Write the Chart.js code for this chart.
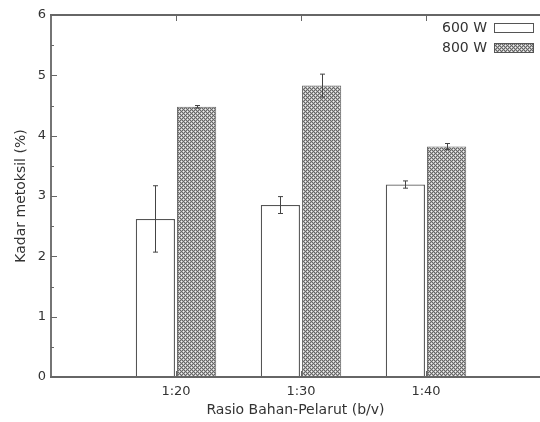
<!DOCTYPE html>
<html><head><meta charset="utf-8">
<script src="https://cdn.jsdelivr.net/npm/chart.js@4.4.0/dist/chart.umd.min.js"></script>
<style>
html,body{margin:0;padding:0;overflow:hidden;background:#fff;width:540px;height:422px}
canvas{display:block}
</style></head>
<body><canvas id="c" width="540" height="422"></canvas>
<script>
const categories = ['1:20', '1:30', '1:40'];
const seriesLabels = ['600 W', '800 W'];
const values600 = [2.62, 2.85, 3.19];
const errors600 = [0.55, 0.14, 0.06];
const values800 = [4.48, 4.83, 3.82];
const errors800 = [0.02, 0.19, 0.05];
const yTicks = [0, 1, 2, 3, 4, 5, 6];
const xTitle = 'Rasio Bahan-Pelarut (b/v)';
const yTitle = 'Kadar metoksil (%)';

const FONT = '"DejaVu Sans", Verdana, sans-serif';
const TXT = '#333333';
const LINE = '#666666';

function makePattern() {
  const t = document.createElement('canvas');
  t.width = 4; t.height = 4;
  const c = t.getContext('2d');
  const pts = [];
  for (let a = -2; a <= 2; a++) for (let b = -2; b <= 2; b++) pts.push([1.5 + 2*a + 2*b, 1.5 + 2*a - 2*b]);
  for (let x = 0; x < 4; x++) for (let y = 0; y < 4; y++) {
    const px = x + 0.5, py = y + 0.5;
    let d = 99;
    pts.forEach(p => { d = Math.min(d, Math.hypot(px - p[0], py - p[1])); });
    c.fillStyle = d < 0.5 ? '#f2f2f2' : (d < 1.2 ? '#b4b4b4' : '#666666');
    c.fillRect(x, y, 1, 1);
  }
  return document.getElementById('c').getContext('2d').createPattern(t, 'repeat');
}
const pattern = makePattern();

const toPoints = arr => arr.map((v, i) => ({x: i + 1, y: v}));
const errs = [errors600, errors800];
const vals = [values600, values800];

const framePlugin = {
  id: 'frame',
  afterDatasetsDraw(chart) {
    const {ctx, scales: {y}} = chart;
    ctx.save();
    ctx.strokeStyle = '#444';
    ctx.lineWidth = 1;
    vals.forEach((v, di) => {
      const meta = chart.getDatasetMeta(di);
      v.forEach((val, i) => {
        const bar = meta.data[i];
        const cx = Math.round(bar.x) + 0.5;
        const yt = y.getPixelForValue(val + errs[di][i]);
        const yb = y.getPixelForValue(val - errs[di][i]);
        ctx.beginPath();
        ctx.moveTo(cx, yt); ctx.lineTo(cx, yb);
        ctx.moveTo(cx - 2.5, yt); ctx.lineTo(cx + 2.5, yt);
        ctx.moveTo(cx - 2.5, yb); ctx.lineTo(cx + 2.5, yb);
        ctx.stroke();
      });
    });
    ctx.restore();
  },
  afterDraw(chart) {
    const {ctx, chartArea: a, scales: {x, y}} = chart;
    const W = chart.width;
    ctx.save();
    ctx.strokeStyle = LINE;
    ctx.lineWidth = 1.8;
    ctx.beginPath();
    ctx.moveTo(a.left, a.top); ctx.lineTo(a.left, a.bottom);
    ctx.moveTo(a.left - 1, a.top); ctx.lineTo(W, a.top);
    ctx.moveTo(a.left - 1, a.bottom); ctx.lineTo(W, a.bottom);
    ctx.stroke();
    ctx.lineWidth = 1;
    ctx.beginPath();
    for (let v = 0; v <= 6.001; v += 0.5) {
      const py = Math.round(y.getPixelForValue(v)) + 0.5;
      const len = Math.abs(v - Math.round(v)) < 0.01 ? 6 : 3;
      ctx.moveTo(a.left, py); ctx.lineTo(a.left + len, py);
    }
    categories.forEach((c, i) => {
      const px = Math.round(x.getPixelForValue(i + 1)) + 0.5;
      ctx.moveTo(px, a.top); ctx.lineTo(px, a.top + 6);
      ctx.moveTo(px, a.bottom); ctx.lineTo(px, a.bottom - 6);
    });
    ctx.stroke();

    // legend
    ctx.font = '14px ' + FONT;
    ctx.textAlign = 'right';
    ctx.textBaseline = 'middle';
    const rows = [{y: 28, fill: '#ffffff'}, {y: 48, fill: pattern}];
    rows.forEach((r, i) => {
      ctx.fillStyle = TXT;
      ctx.fillText(seriesLabels[i], 487, r.y);
      ctx.fillStyle = r.fill;
      ctx.fillRect(494, r.y - 5, 40, 10);
      ctx.strokeStyle = '#555';
      ctx.lineWidth = 1;
      ctx.strokeRect(494.5, r.y - 4.5, 39, 9);
    });
    ctx.restore();
  }
};

new Chart(document.getElementById('c'), {
  type: 'bar',
  data: {
    datasets: [
      {label: seriesLabels[0], data: toPoints(values600), backgroundColor: '#ffffff', borderColor: '#555', borderWidth: 1.3},
      {label: seriesLabels[1], data: toPoints(values800), backgroundColor: pattern, borderColor: '#666', borderWidth: 1}
    ]
  },
  options: {
    responsive: false,
    animation: false,
    devicePixelRatio: 1,
    layout: {padding: {top: 15, right: 0, left: 0, bottom: 0}},
    plugins: {legend: {display: false}, tooltip: {enabled: false}},
    datasets: {bar: {categoryPercentage: 0.66, barPercentage: 0.95}},
    scales: {
      x: {
        type: 'linear',
        min: 0, max: 3.912,
        offset: false,
        afterBuildTicks(s) { s.ticks = categories.map((c, i) => ({value: i + 1})); },
        grid: {display: false, drawTicks: false},
        border: {display: false},
        ticks: {color: TXT, font: {family: FONT, size: 13}, padding: 7, maxRotation: 0, autoSkip: false,
                callback: (v) => categories[Math.round(v) - 1] ?? ''},
        title: {display: true, text: xTitle, color: TXT, font: {family: FONT, size: 14}, padding: {top: 0, bottom: 3}},
        afterFit(s) { s.height = 45; }
      },
      y: {
        min: 0, max: 6,
        afterBuildTicks(s) { s.ticks = yTicks.map(v => ({value: v})); },
        grid: {display: false, drawTicks: false},
        border: {display: false},
        ticks: {color: TXT, font: {family: FONT, size: 13}, padding: 5},
        title: {display: true, text: yTitle, color: TXT, font: {family: FONT, size: 14}, padding: {top: 13, bottom: 0}},
        afterFit(s) { s.width = 51; }
      }
    }
  },
  plugins: [framePlugin]
});
</script>
</body></html>
